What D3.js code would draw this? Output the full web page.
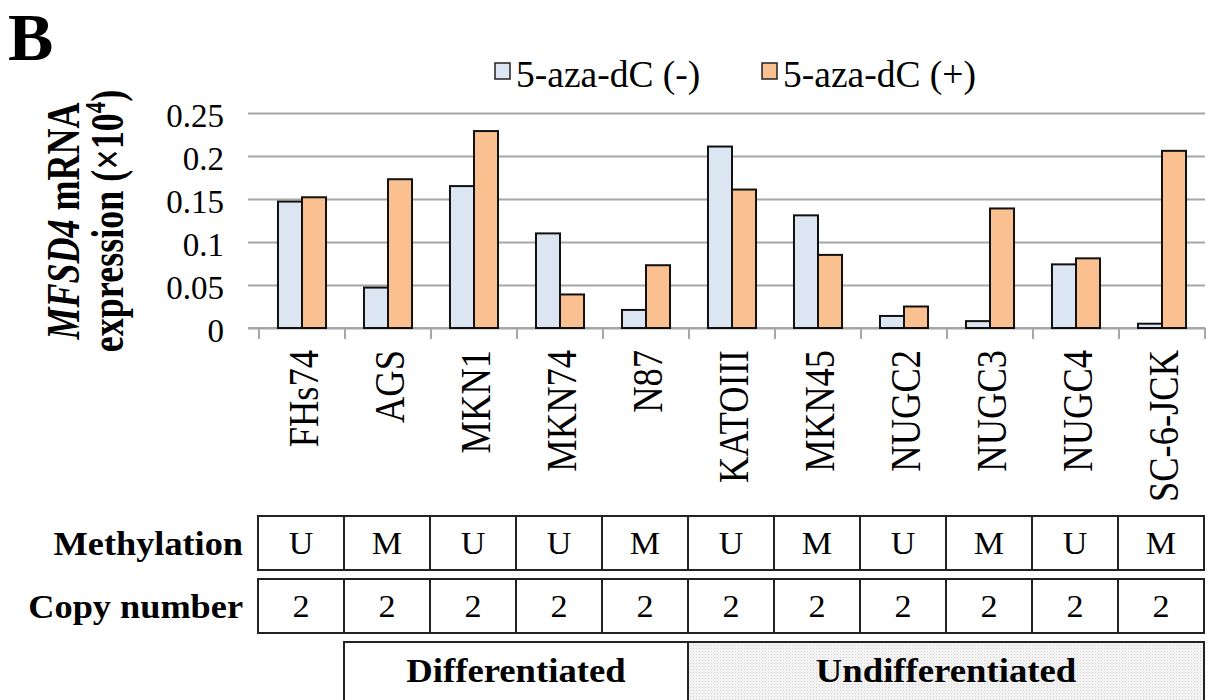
<!DOCTYPE html>
<html>
<head>
<meta charset="utf-8">
<script src="https://cdn.jsdelivr.net/npm/d3@7"></script>
<style>
  body { margin: 0; background: #fff; }
  text { font-family: "Liberation Serif", "Times New Roman", serif; }
</style>
</head>
<body>
<script>

// data
var cellLines = ['FHs74', 'AGS', 'MKN1', 'MKN74', 'N87', 'KATOIII', 'MKN45', 'NUGC2', 'NUGC3', 'NUGC4', 'SC-6-JCK'];
var seriesNames = ['5-aza-dC (-)', '5-aza-dC (+)'];
var azaMinus = [0.147, 0.047, 0.165, 0.110, 0.021, 0.211, 0.131, 0.014, 0.008, 0.074, 0.005];
var azaPlus = [0.152, 0.173, 0.229, 0.039, 0.073, 0.161, 0.085, 0.025, 0.139, 0.081, 0.206];
var yTicks = [0, 0.05, 0.1, 0.15, 0.2, 0.25];
var yTickLabels = ['0', '0.05', '0.1', '0.15', '0.2', '0.25'];
var methylation = ['U', 'M', 'U', 'U', 'M', 'U', 'M', 'U', 'M', 'U', 'M'];
var copyNumber = ['2', '2', '2', '2', '2', '2', '2', '2', '2', '2', '2'];
var groups = [
    { name: 'Differentiated', from: 'AGS', to: 'N87' },
    { name: 'Undifferentiated', from: 'KATOIII', to: 'SC-6-JCK' }
];

var colors = ['#dce6f2', '#fac090'];

var svg = d3.select('body').append('svg')
    .attr('width', 1207)
    .attr('height', 700);

// Init scales
var x = d3.scaleBand()
    .domain(cellLines)
    .range([259, 1205])
    .padding(0);

var x1 = d3.scaleBand()
    .domain(seriesNames)
    .range([0, x.bandwidth()])
    .paddingInner(0)
    .paddingOuter(0.79);

var y = d3.scaleLinear()
    .domain([0, 0.25])
    .range([328, 113]);

// panel letter
svg.append('text')
    .attr('x', 8)
    .attr('y', 60)
    .style('font-size', '68px')
    .style('font-weight', 'bold')
    .text('B');

// gridlines + y tick labels
var yAxis = svg.append('g')
    .attr('transform', 'translate(1205,0)')
    .call(d3.axisLeft(y)
        .tickValues(yTicks)
        .tickSize(1205 - 248)
        .tickPadding(24)
        .tickFormat((d, i) => yTickLabels[i]));

yAxis.select('.domain').remove();
yAxis.selectAll('line')
    .attr('stroke', '#a6a6a6')
    .attr('stroke-width', 2);
yAxis.selectAll('text')
    .attr('fill', '#000')
    .attr('dy', '0.42em')
    .style('font-size', '33px')
    .style('font-family', '"Liberation Serif", serif');

// x axis with category-boundary ticks
var xAxis = svg.append('g')
    .attr('transform', 'translate(0,' + y(0) + ')');

xAxis.append('line')
    .attr('x1', 248).attr('x2', 1205)
    .attr('stroke', '#a6a6a6').attr('stroke-width', 2);

xAxis.selectAll('.tick')
    .data(cellLines.concat(['end']))
    .enter().append('line')
    .attr('x1', (d, i) => i < cellLines.length ? x(d) : x.range()[1])
    .attr('x2', (d, i) => i < cellLines.length ? x(d) : x.range()[1])
    .attr('y1', 0).attr('y2', 11)
    .attr('stroke', '#a6a6a6').attr('stroke-width', 2);

// rotated labels, a bit wider across than along (as in the figure)
xAxis.selectAll('.lbl')
    .data(cellLines)
    .enter().append('text')
    .attr('transform', d => 'translate(' + (x(d) + x.bandwidth() / 2) + ',22) rotate(-90) scale(1,1.15)')
    .attr('dy', '0.39em')
    .style('text-anchor', 'end')
    .style('font-size', '36.5px')
    .text(d => d);

// bars
var seriesData = [azaMinus, azaPlus];
var bars = svg.append('g');
seriesData.forEach((vals, s) => {
    bars.selectAll('.bar' + s)
        .data(vals)
        .enter().append('rect')
        .attr('class', 'bar' + s)
        .attr('x', (d, i) => x(cellLines[i]) + x1(seriesNames[s]))
        .attr('y', d => y(d))
        .attr('width', x1.bandwidth())
        .attr('height', d => y(0) - y(d))
        .attr('fill', colors[s])
        .attr('stroke', '#111')
        .attr('stroke-width', 2);
});

// legend
var legendX = [495, 762];
var legend = svg.append('g');
seriesNames.forEach((name, s) => {
    legend.append('rect')
        .attr('x', legendX[s]).attr('y', 63)
        .attr('width', 15).attr('height', 16)
        .attr('fill', colors[s])
        .attr('stroke', '#222').attr('stroke-width', 1.5);
    legend.append('text')
        .attr('x', legendX[s] + 21)
        .attr('y', 87)
        .style('font-size', '37.5px')
        .text(name);
});

// y axis title
var yTitle = svg.append('g')
    .attr('transform', 'translate(0,221) rotate(-90)');

var t1 = yTitle.append('text')
    .attr('transform', 'translate(0,79) scale(1,1.3)')
    .style('text-anchor', 'middle')
    .style('font-size', '36px')
    .style('font-weight', 'bold');
t1.append('tspan').style('font-style', 'italic').text('MFSD4');
t1.append('tspan').text(' mRNA');

var t2 = yTitle.append('text')
    .attr('transform', 'translate(0,123) scale(1,1.3)')
    .style('text-anchor', 'middle')
    .style('font-size', '36px')
    .style('font-weight', 'bold');
t2.append('tspan').text('expression (×10');
t2.append('tspan').attr('dy', -14).style('font-size', '23px').text('4');
t2.append('tspan').attr('dy', 14).text(')');

// annotation table
function wideText(sel, px, py, sx) {
    return sel.attr('transform', 'translate(' + px + ',' + py + ') scale(' + sx + ',1)');
}

function tableRow(label, values, top, h) {
    var g = svg.append('g');
    wideText(g.append('text'), 243, top + h / 2, 1.1)
        .attr('dy', '0.35em')
        .style('text-anchor', 'end')
        .style('font-size', '33px')
        .style('font-weight', 'bold')
        .text(label);
    g.selectAll('rect')
        .data(values)
        .enter().append('rect')
        .attr('x', (d, i) => x(cellLines[i]) - 1)
        .attr('y', top)
        .attr('width', x.bandwidth())
        .attr('height', h)
        .attr('fill', '#fff')
        .attr('stroke', '#222')
        .attr('stroke-width', 2);
    g.selectAll('.cell')
        .data(values)
        .enter().append('text')
        .attr('transform', (d, i) => 'translate(' + (x(cellLines[i]) + x.bandwidth() / 2 - 1) + ',' + (top + h / 2) + ') scale(1.1,1)')
        .attr('dy', '0.35em')
        .style('text-anchor', 'middle')
        .style('font-size', '31px')
        .text(d => d);
}

tableRow('Methylation', methylation, 516, 54);
tableRow('Copy number', copyNumber, 579, 54);

// group boxes
var defs = svg.append('defs');
var pat = defs.append('pattern')
    .attr('id', 'dots')
    .attr('width', 3).attr('height', 3)
    .attr('patternUnits', 'userSpaceOnUse');
pat.append('rect').attr('width', 3).attr('height', 3).attr('fill', '#f2f2f2');
pat.append('rect').attr('width', 1).attr('height', 1).attr('fill', '#d6d6d6');

var grp = svg.append('g');
groups.forEach((gr, k) => {
    var x0 = x(gr.from) - 1;
    var xEnd = x(gr.to) + x.bandwidth() - 1;
    grp.append('rect')
        .attr('x', x0).attr('y', 642)
        .attr('width', xEnd - x0).attr('height', 70)
        .attr('fill', k === 0 ? '#fff' : 'url(#dots)')
        .attr('stroke', '#222').attr('stroke-width', 2);
    wideText(grp.append('text'), (x0 + xEnd) / 2, 682, 1.08)
        .style('text-anchor', 'middle')
        .style('font-size', '34px')
        .style('font-weight', 'bold')
        .text(gr.name);
});

</script>
</body>
</html>
